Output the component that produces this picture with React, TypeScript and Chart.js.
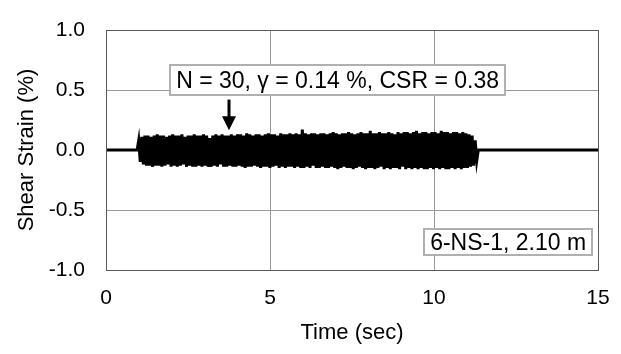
import React, { useEffect, useRef } from "react";
import { Chart, registerables } from "chart.js";

Chart.register(...registerables);

// ---- Data ----
const xTickValues = [0, 5, 10, 15];
const yTickValues = [-1.0, -0.5, 0.0, 0.5, 1.0];
const recordStart = 0;
const recordEnd = 15;
const shakeStart = 0.95; // s, start of cyclic loading
const shakeEnd = 11.35; // s, end of cyclic loading

// positive shear-strain peaks (%) of each loading cycle
const positivePeaks = [
  0.08, 0.11, 0.12, 0.12, 0.11, 0.12, 0.13, 0.12, 0.12, 0.11,
  0.12, 0.13, 0.12, 0.12, 0.13, 0.11, 0.12, 0.12, 0.13, 0.12,
  0.12, 0.13, 0.12, 0.10, 0.12, 0.13, 0.12, 0.13, 0.12, 0.12,
  0.13, 0.12, 0.13, 0.13, 0.12, 0.14, 0.13, 0.12, 0.13, 0.13,
  0.12, 0.13, 0.14, 0.13, 0.13, 0.12, 0.14, 0.13, 0.13, 0.14,
  0.13, 0.14, 0.13, 0.17, 0.14, 0.13, 0.14, 0.14, 0.13, 0.14,
  0.14, 0.13, 0.14, 0.15, 0.14, 0.13, 0.14, 0.14, 0.15, 0.14,
  0.13, 0.14, 0.15, 0.14, 0.14, 0.16, 0.14, 0.14, 0.15, 0.14,
  0.14, 0.15, 0.14, 0.13, 0.15, 0.14, 0.15, 0.15, 0.14, 0.15,
  0.16, 0.14, 0.15, 0.15, 0.14, 0.15, 0.15, 0.14, 0.16, 0.15,
  0.15, 0.14, 0.15, 0.15, 0.14, 0.15, 0.14, 0.13, 0.12, 0.08,
];

// negative shear-strain peaks (%) of each loading cycle
const negativePeaks = [
  -0.10, -0.12, -0.13, -0.13, -0.14, -0.13, -0.13, -0.14, -0.13, -0.12,
  -0.14, -0.13, -0.14, -0.13, -0.12, -0.14, -0.13, -0.14, -0.14, -0.13,
  -0.14, -0.13, -0.14, -0.14, -0.13, -0.14, -0.12, -0.14, -0.14, -0.13,
  -0.14, -0.14, -0.13, -0.14, -0.15, -0.14, -0.14, -0.13, -0.14, -0.15,
  -0.14, -0.14, -0.15, -0.14, -0.13, -0.15, -0.14, -0.15, -0.14, -0.14,
  -0.15, -0.14, -0.15, -0.15, -0.14, -0.15, -0.13, -0.15, -0.15, -0.14,
  -0.15, -0.15, -0.14, -0.15, -0.16, -0.15, -0.14, -0.15, -0.15, -0.16,
  -0.15, -0.14, -0.15, -0.16, -0.15, -0.15, -0.16, -0.15, -0.14, -0.16,
  -0.15, -0.16, -0.15, -0.15, -0.16, -0.14, -0.16, -0.15, -0.16, -0.15,
  -0.16, -0.15, -0.16, -0.16, -0.15, -0.16, -0.15, -0.16, -0.15, -0.16,
  -0.16, -0.15, -0.16, -0.15, -0.16, -0.15, -0.15, -0.14, -0.13, -0.09,
];

const infoText = "N = 30, \u03b3 = 0.14 %, CSR = 0.38";
const infoBoxAt = { x: 7.06, y: 0.58 };
const arrowTime = 3.76;
const arrowFrom = 0.42;
const arrowTo = 0.165;
const siteText = "6-NS-1, 2.10 m";
const siteBoxAt = { x: 12.26, y: -0.77 };

const FONT = '"Liberation Sans", Arial, sans-serif';

function buildPoints() {
  const pts: { x: number; y: number }[] = [
    { x: recordStart, y: 0 },
    { x: shakeStart, y: 0 },
  ];
  const n = positivePeaks.length;
  const step = (shakeEnd - shakeStart) / (2 * n + 1);
  for (let i = 0; i < n; i++) {
    pts.push({ x: shakeStart + (2 * i + 1) * step, y: positivePeaks[i] });
    pts.push({ x: shakeStart + (2 * i + 2) * step, y: negativePeaks[i] });
  }
  pts.push({ x: shakeEnd, y: 0 });
  pts.push({ x: recordEnd, y: 0 });
  return pts;
}

const overlayPlugin = {
  id: "overlay",
  afterDatasetsDraw(chart: any) {
    const { ctx, chartArea, scales } = chart;
    const xs = scales.x;
    const ys = scales.y;
    ctx.save();
    // frame
    ctx.strokeStyle = "#595959";
    ctx.lineWidth = 1;
    ctx.strokeRect(
      Math.round(chartArea.left) + 0.5,
      Math.round(chartArea.top) + 0.5,
      Math.round(chartArea.right - chartArea.left),
      Math.round(chartArea.bottom - chartArea.top)
    );

    const drawBox = (text: string, cx: number, cy: number, size: number, padX: number, h: number) => {
      ctx.font = `${size}px ${FONT}`;
      const w = Math.round(ctx.measureText(text).width + padX * 2);
      const left = Math.round(cx - w / 2);
      const top = Math.round(cy - h / 2);
      ctx.fillStyle = "#ffffff";
      ctx.fillRect(left, top, w, h);
      ctx.strokeStyle = "#b0b0b0";
      ctx.lineWidth = 2;
      ctx.strokeRect(left, top, w, h);
      ctx.fillStyle = "#000000";
      ctx.textAlign = "center";
      ctx.textBaseline = "middle";
      ctx.fillText(text, cx, cy + 1);
    };

    // arrow
    const ax = Math.round(xs.getPixelForValue(arrowTime));
    const ay1 = ys.getPixelForValue(arrowFrom);
    const ay2 = ys.getPixelForValue(arrowTo);
    ctx.strokeStyle = "#000";
    ctx.fillStyle = "#000";
    ctx.lineWidth = 3;
    ctx.beginPath();
    ctx.moveTo(ax, ay1);
    ctx.lineTo(ax, ay2 - 10);
    ctx.stroke();
    ctx.beginPath();
    ctx.moveTo(ax - 7, ay2 - 14);
    ctx.lineTo(ax + 7, ay2 - 14);
    ctx.lineTo(ax, ay2);
    ctx.closePath();
    ctx.fill();

    drawBox(infoText, xs.getPixelForValue(infoBoxAt.x), ys.getPixelForValue(infoBoxAt.y), 23, 6, 30);
    drawBox(siteText, xs.getPixelForValue(siteBoxAt.x), ys.getPixelForValue(siteBoxAt.y), 23, 6, 26);
    ctx.restore();
  },
};

export default function App() {
  const ref = useRef<HTMLCanvasElement | null>(null);
  useEffect(() => {
    if (!ref.current) return;
    const chart = new Chart(ref.current, {
      type: "line",
      data: {
        datasets: [
          {
            data: buildPoints(),
            borderColor: "#000000",
            borderWidth: 3,
            pointRadius: 0,
            tension: 0,
            fill: false,
          },
        ],
      },
      options: {
        animation: false,
        responsive: false,
        maintainAspectRatio: false,
        parsing: false,
        normalized: true,
        layout: { padding: { top: 30, right: 23, left: 0, bottom: 0 } },
        plugins: { legend: { display: false }, tooltip: { enabled: false } },
        scales: {
          x: {
            type: "linear",
            min: recordStart,
            max: recordEnd,
            afterBuildTicks: (s: any) => {
              s.ticks = xTickValues.map((v) => ({ value: v }));
            },
            afterFit: (s: any) => {
              s.height = 84;
              s.paddingLeft = 0;
              s.paddingRight = 0;
            },
            border: { display: false },
            grid: { color: "#999999", lineWidth: 1, drawTicks: false },
            ticks: {
              color: "#000",
              font: { family: FONT, size: 21 },
              padding: 16,
              callback: (v: any) => String(v),
            },
            title: {
              display: true,
              text: "Time (sec)",
              color: "#000",
              font: { family: FONT, size: 22 },
              padding: { top: 0, bottom: 8 },
            },
          },
          y: {
            type: "linear",
            min: -1,
            max: 1,
            afterBuildTicks: (s: any) => {
              s.ticks = yTickValues.map((v) => ({ value: v }));
            },
            afterFit: (s: any) => {
              s.width = 106;
              s.paddingTop = 0;
              s.paddingBottom = 0;
            },
            border: { display: false },
            grid: { color: "#999999", lineWidth: 1, drawTicks: false },
            ticks: {
              color: "#000",
              font: { family: FONT, size: 21 },
              padding: 21,
              callback: (v: any) => Number(v).toFixed(1),
            },
            title: {
              display: true,
              text: "Shear Strain (%)",
              color: "#000",
              font: { family: FONT, size: 22 },
              padding: { top: 14, bottom: 0 },
            },
          },
        },
      },
      plugins: [overlayPlugin],
    });
    return () => chart.destroy();
  }, []);
  return (
    <div style={{ position: "fixed", left: 0, top: 0, width: 621, height: 354, background: "#fff" }}>
      <canvas ref={ref} width={621} height={354} style={{ width: 621, height: 354 }} />
    </div>
  );
}
